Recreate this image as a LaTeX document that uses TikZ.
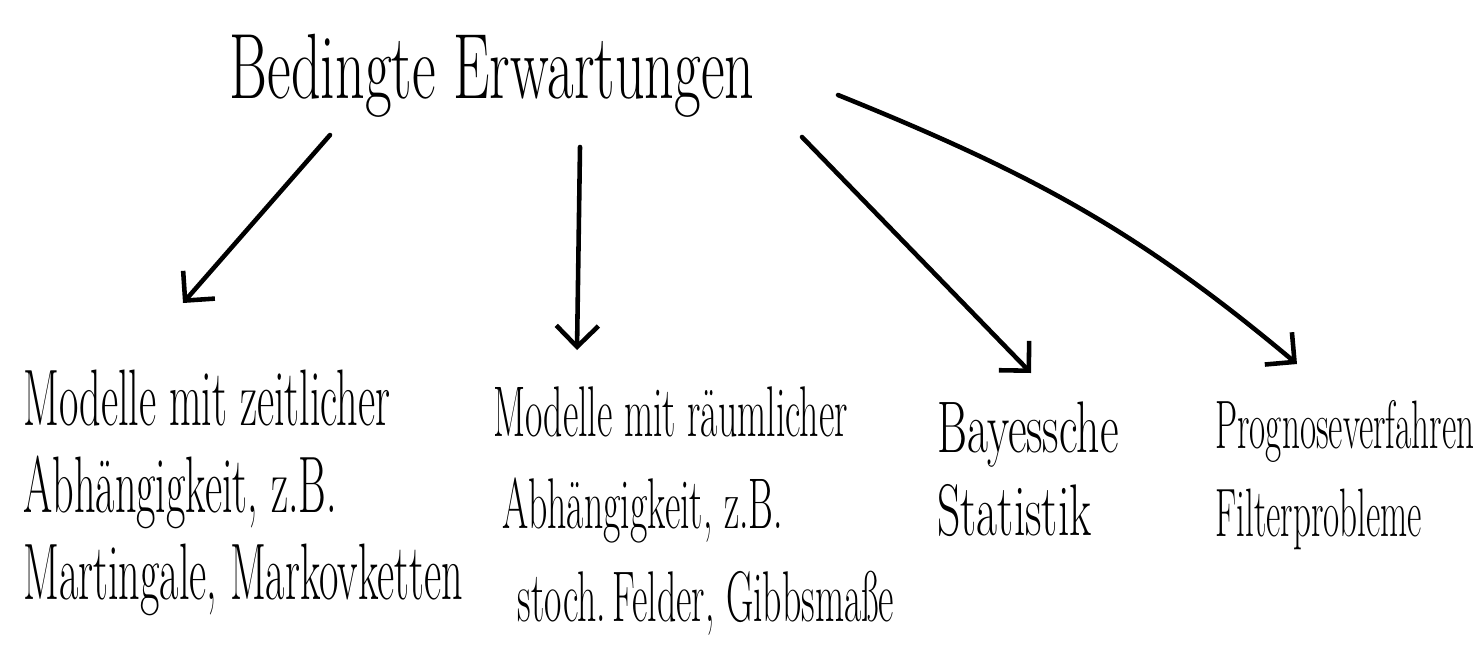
\documentclass[tikz,border=0pt]{standalone}
\usepackage{graphicx}
\usetikzlibrary{arrows.meta}
\newcommand\talltext[3]{\scalebox{1}[#1]{\vbox{\baselineskip=#2\relax #3}}}
\begin{document}
\begin{tikzpicture}[x=0.02cm,y=-0.02cm,
  conn/.style={line width=2.6pt, line cap=round, line join=round,
    -{Straight Barb[length=12pt,width=24pt,line width=2.6pt]}},
  titletext/.style={font=\fontsize{33}{40}\selectfont, inner sep=0pt, anchor=base},
  leaf/.style={inner sep=0pt, anchor=north west}]
\useasboundingbox (0,0) rectangle (1478,664);
\node[titletext] (title) at (492,98) {\scalebox{1}[1.6]{Bedingte Erwartungen}};
\node[leaf, font=\fontsize{24}{26}\selectfont] (c1) at (23,370)
  {\talltext{1.9}{26pt}{\hbox{Modelle mit zeitlicher}\hbox{Abhängigkeit, z.B.}\hbox{Martingale, Markovketten}}};
\node[leaf, font=\fontsize{21.5}{27.7}\selectfont] (c2) at (493,386)
  {\talltext{1.9}{27.7pt}{\hbox{Modelle mit räumlicher}\hbox{\hspace*{5pt}Abhängigkeit, z.B.}\hbox{\hspace*{14pt}stoch.\,Felder, Gibbsmaße}}};
\node[leaf, font=\fontsize{26}{29.8}\selectfont] (c3) at (937,401)
  {\talltext{1.6}{29.8pt}{\hbox{Bayessche}\hbox{Statistik}}};
\node[leaf, font=\fontsize{20}{25.6}\selectfont] (c4) at (1215,400)
  {\talltext{1.95}{25.6pt}{\hbox{Prognoseverfahren}\hbox{Filterprobleme}}};
\coordinate (s1) at (330,135);
\coordinate (e1) at (183,303);
\coordinate (s2) at (580,147);
\coordinate (e2) at (577,350);
\coordinate (s3) at (802,137);
\coordinate (e3) at (1031,373);
\coordinate (s4) at (838,95);
\coordinate (e4) at (1297,364);
\draw[conn] (s1) -- (e1);
\draw[conn] (s2) -- (e2);
\draw[conn] (s3) -- (e3);
\draw[conn] (s4) to[out=-22,in=140] (e4);
\end{tikzpicture}
\end{document}
